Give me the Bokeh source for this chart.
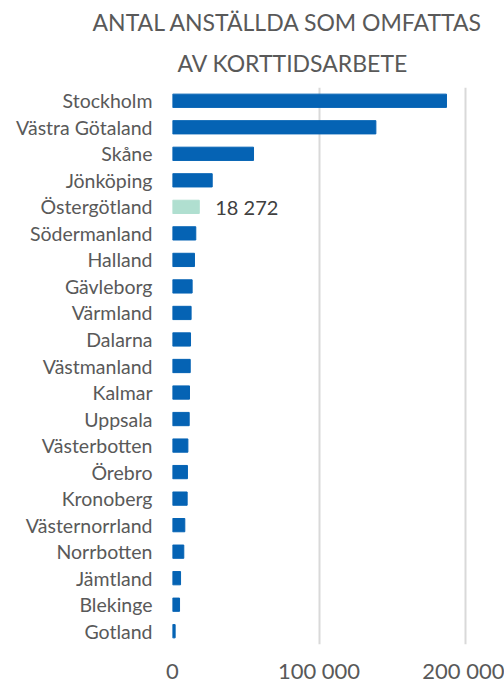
from bokeh.plotting import figure
from bokeh.models import FixedTicker, Title, ColumnDataSource, FactorRange
from bokeh.core.properties import value
from bokeh.embed import file_html
from bokeh.resources import INLINE

regions = ["Stockholm", "Västra Götaland", "Skåne", "Jönköping", "Östergötland",
           "Södermanland", "Halland", "Gävleborg", "Värmland", "Dalarna",
           "Västmanland", "Kalmar", "Uppsala", "Västerbotten", "Örebro",
           "Kronoberg", "Västernorrland", "Norrbotten", "Jämtland", "Blekinge", "Gotland"]
employees = [187000, 138800, 55300, 27100, 18272,
             15900, 15000, 13400, 12700, 12300,
             12100, 11600, 11400, 10500, 10200,
             10000, 8400, 7700, 5500, 4800, 1800]
highlight = "Östergötland"
highlight_label = "18 272"
x_ticks = [0, 100000, 200000]
x_tick_labels = ["0", "100 000", "200 000"]
title_lines = ["ANTAL ANSTÄLLDA SOM OMFATTAS", "AV KORTTIDSARBETE"]

BLUE = "#0563B4"
MINT = "#B0DFD0"
GREY = "#595959"
FONT = "Lato"

colors = [MINT if r == highlight else BLUE for r in regions]
src = ColumnDataSource(dict(y=regions, right=employees, color=colors))

p = figure(width=504, height=686, output_backend="svg", toolbar_location=None,
           y_range=FactorRange(*reversed(regions)), x_range=(0, 226600),
           min_border_left=172, min_border_right=0, min_border_top=87,
           min_border_bottom=39)
p.outline_line_color = None
p.hbar(y="y", right="right", height=0.5, left=0, color="color", source=src)

idx = regions.index(highlight)
p.text(x=[employees[idx]], y=[highlight], text=[highlight_label], x_offset=16,
       text_baseline="middle", text_align="left", text_color="#404040",
       text_font=value(FONT), text_font_size="20px")

p.ygrid.grid_line_color = None
p.xgrid.grid_line_color = "#D9D9D9"
p.xgrid.grid_line_width = 2
p.xaxis.ticker = FixedTicker(ticks=x_ticks)
p.xgrid.ticker = FixedTicker(ticks=x_ticks)
p.xaxis.major_label_overrides = dict(zip(x_ticks, x_tick_labels))

for ax in (p.xaxis, p.yaxis):
    ax.axis_line_color = None
    ax.major_tick_line_color = None
    ax.minor_tick_line_color = None
    ax.major_tick_out = 0
    ax.major_tick_in = 0
    ax.minor_tick_out = 0
    ax.minor_tick_in = 0
    ax.major_label_text_color = GREY
    ax.major_label_text_font = FONT
p.xaxis.major_label_text_font_size = "22px"
p.xaxis.major_label_standoff = 12
p.yaxis.major_label_text_font_size = "19.5px"
p.yaxis.major_label_standoff = 20

# second line first (closest to the frame), then first line above it
p.add_layout(Title(text=title_lines[1], align="left", offset=5,
                   text_color=GREY, text_font=FONT, text_font_size="23px",
                   text_font_style="normal", standoff=22), "above")
p.add_layout(Title(text=title_lines[0], align="left", offset=-80,
                   text_color=GREY, text_font=FONT, text_font_size="23px",
                   text_font_style="normal", standoff=0), "above")

open("out.html", "w").write(file_html(p, INLINE))
